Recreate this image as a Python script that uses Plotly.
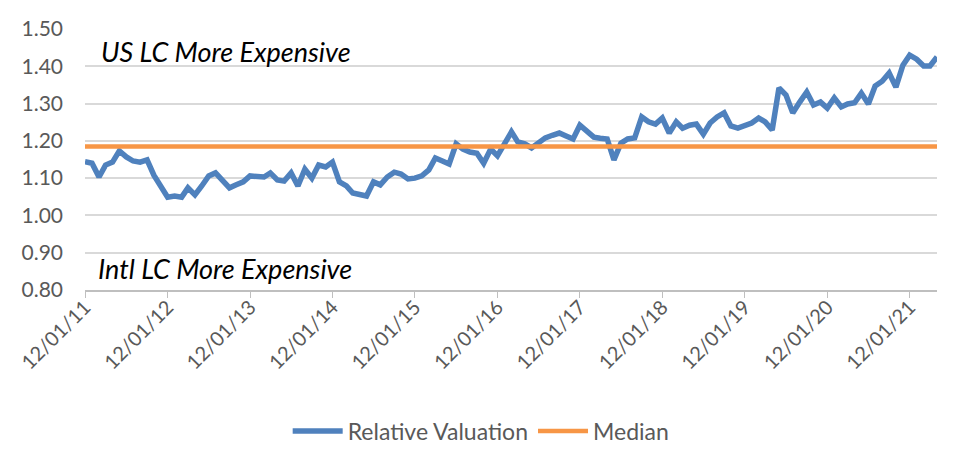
import pandas as pd
import plotly.graph_objects as go

# ---- data ----
start_month = "2011-12-01"
relative_valuation = [
    1.144, 1.14, 1.103, 1.135, 1.143, 1.173, 1.157, 1.146, 1.143, 1.149,
    1.108, 1.076, 1.049, 1.052, 1.049, 1.074, 1.055, 1.079, 1.106, 1.114,
    1.092, 1.074, 1.082, 1.09, 1.106, 1.103, 1.103, 1.114, 1.095, 1.092,
    1.114, 1.079, 1.124, 1.10, 1.135, 1.13, 1.143, 1.09, 1.079, 1.06,
    1.057, 1.052, 1.09, 1.082, 1.103, 1.116, 1.111, 1.098, 1.10, 1.106,
    1.122, 1.154, 1.146, 1.138, 1.192, 1.178, 1.17, 1.167, 1.14, 1.178,
    1.16, 1.194, 1.224, 1.197, 1.192, 1.181, 1.194, 1.208, 1.215, 1.221,
    1.213, 1.205, 1.242, 1.224, 1.21, 1.207, 1.205, 1.149, 1.194, 1.205,
    1.208, 1.264, 1.251, 1.245, 1.261, 1.221, 1.251, 1.234, 1.242, 1.245,
    1.218, 1.248, 1.264, 1.275, 1.24, 1.234, 1.242, 1.248, 1.261, 1.251,
    1.229, 1.342, 1.323, 1.275, 1.304, 1.331, 1.296, 1.304, 1.288, 1.315,
    1.291, 1.299, 1.302, 1.328, 1.299, 1.347, 1.36, 1.382, 1.344, 1.403,
    1.43, 1.419, 1.401, 1.401, 1.425,
]
median_value = 1.185
y_ticks = [0.80, 0.90, 1.00, 1.10, 1.20, 1.30, 1.40, 1.50]
series_names = ["Relative Valuation", "Median"]
annotation_texts = ["US LC More Expensive", "Intl LC More Expensive"]

dates = pd.date_range(start_month, periods=len(relative_valuation), freq="MS")
median_line = [median_value] * len(dates)

FONT = "Lato, 'Open Sans', sans-serif"
GREY = "#595959"

fig = go.Figure()
fig.add_trace(go.Scatter(
    x=dates, y=relative_valuation, mode="lines", name=series_names[0],
    line=dict(color="#4F81BD", width=5.5), hoverinfo="x+y"))
fig.add_trace(go.Scatter(
    x=dates, y=median_line, mode="lines", name=series_names[1],
    line=dict(color="#F79646", width=4.5), hoverinfo="x+y"))

fig.add_annotation(text=annotation_texts[0], xref="paper", yref="y",
                   x=0.017, y=1.44, xanchor="left", yanchor="middle",
                   showarrow=False,
                   font=dict(family=FONT, size=27, color="#000000", style="italic"))
fig.add_annotation(text=annotation_texts[1], xref="paper", yref="y",
                   x=0.013, y=0.858, xanchor="left", yanchor="middle",
                   showarrow=False,
                   font=dict(family=FONT, size=27, color="#000000", style="italic"))

fig.update_layout(
    width=968, height=466,
    margin=dict(l=85, r=31, t=29, b=176),
    paper_bgcolor="white", plot_bgcolor="white",
    font=dict(family=FONT, size=21, color=GREY),
    showlegend=True,
    legend=dict(orientation="h", x=0.465, xanchor="center", y=-0.54, yanchor="middle",
                font=dict(family=FONT, size=23, color=GREY), itemwidth=50),
    xaxis=dict(
        type="date", automargin=False,
        range=[dates[0], dates[-1]],
        tick0=dates[0], dtick="M12", tickformat="%m/%d/%y",
        tickangle=-45, ticks="outside", ticklen=6, tickcolor="#BFBFBF",
        showline=True, linecolor="#BFBFBF", linewidth=1.5,
        showgrid=False, zeroline=False, ticklabelstandoff=-10,
        tickfont=dict(family=FONT, size=20, color=GREY),
    ),
    yaxis=dict(
        automargin=False,
        range=[0.80, 1.50], tickvals=y_ticks, tickformat=".2f",
        showgrid=True, gridcolor="#D9D9D9", gridwidth=1.5,
        zeroline=False, showline=False, ticks="", ticklabelstandoff=21,
        tickfont=dict(family=FONT, size=21, color=GREY),
    ),
)

fig.write_html("out.html", config={"displayModeBar": False},
               post_script="document.body.style.margin='0px';document.body.style.overflow='hidden';")
